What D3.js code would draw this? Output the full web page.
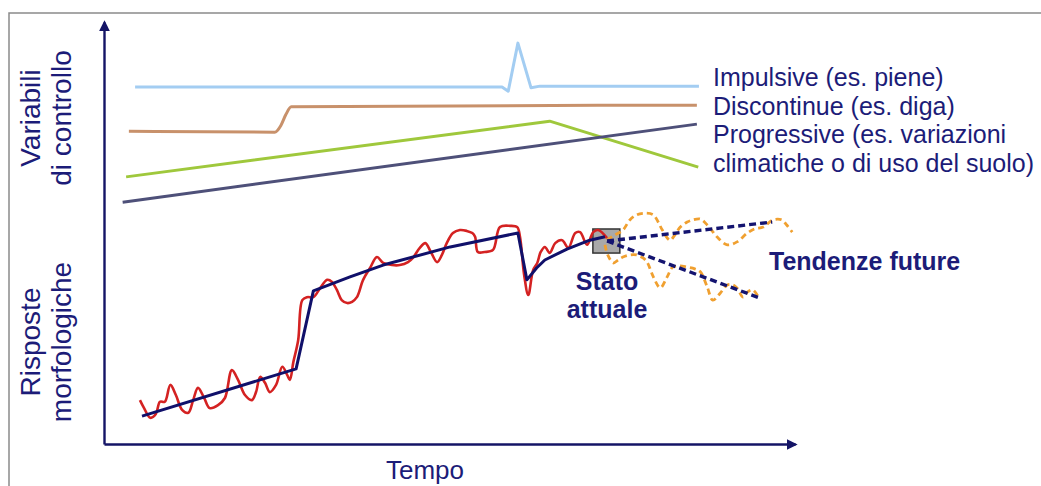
<!DOCTYPE html>
<html>
<head>
<meta charset="utf-8">
<script src="https://d3js.org/d3.v7.min.js"></script>
<style>
  body { margin: 0; background: #fff; }
  text { font-family: "Liberation Sans", Arial, sans-serif; fill: #1c1c78; }
</style>
</head>
<body>
<svg></svg>
<script>
    // time (0-100) / level (0-100) values

    // control variables
    const impulsive = [[4.5, 84.6], [57.6, 84.6], [58.5, 83.6], [59.9, 95.0], [61.8, 84.4], [63.1, 84.8], [86.1, 84.8]];
    const discontinue = [[3.6, 74.1], [24.7, 73.9], [25.6, 75.5], [26.3, 78.0], [27.1, 79.9], [85.8, 80.3]];
    const progressiveA = [[3.2, 63.3], [64.5, 76.5], [86.0, 65.6]];
    const progressiveB = [[2.7, 57.3], [85.8, 75.8]];

    // morphological response
    const response = [
        [5.2, 10.4], [5.8, 8.5], [6.7, 6.2], [7.5, 7.1], [8.1, 10.0], [8.8, 10.0], [9.6, 14.0],
        [10.4, 11.6], [11.3, 8.1], [12.2, 7.4], [12.9, 10.4], [13.6, 13.3], [14.5, 10.9], [15.3, 8.5],
        [16.5, 9.2], [17.5, 10.9], [18.5, 17.5], [19.4, 15.2], [20.4, 11.6], [21.4, 10.4], [22.0, 12.3],
        [22.6, 15.9], [23.3, 14.5], [24.0, 12.3], [24.9, 14.0], [25.8, 18.3], [26.5, 16.4], [26.9, 15.2],
        [27.4, 19.4], [28.1, 24.6], [28.7, 34.1], [29.4, 34.8], [30.3, 34.8], [31.3, 37.0], [32.3, 38.9],
        [33.0, 38.4], [33.7, 36.5], [34.4, 34.1], [35.2, 33.4], [35.9, 33.7], [36.6, 34.8], [37.5, 38.9],
        [38.5, 41.7], [39.5, 44.3], [40.4, 42.9], [41.7, 42.4], [42.8, 42.4], [44.0, 43.1], [44.7, 44.1],
        [45.7, 46.5], [46.5, 47.6], [47.3, 45.5], [48.2, 43.1], [48.9, 44.8], [49.6, 47.6], [50.5, 50.0],
        [51.5, 50.7], [52.5, 50.5], [53.3, 50.0], [53.7, 49.1], [54.1, 45.5], [55.1, 45.5], [56.3, 46.0],
        [57.3, 51.4], [58.8, 51.7], [59.8, 51.4], [60.2, 49.1], [60.8, 40.1], [61.4, 35.3], [62.1, 41.2],
        [62.7, 42.9], [63.2, 45.5], [63.8, 46.7], [64.5, 45.3], [65.3, 47.6], [66.3, 48.3], [67.2, 46.5],
        [68.2, 50.0], [68.9, 50.2], [69.9, 47.2], [70.8, 50.2], [71.5, 50.7], [72.8, 48.8]
    ];
    const trend = [
        [5.5, 6.6], [27.8, 17.8], [30.3, 36.3], [35.6, 39.6], [40.4, 42.4], [50.1, 46.7], [59.9, 50.0],
        [61.2, 38.9], [62.6, 41.7], [63.8, 43.6], [67.0, 46.2], [70.3, 48.3], [72.5, 49.1]
    ];

    // present state and future trends
    const presentState = {t: 72.7, v: 48.1, dt: 3.9, dv: 5.7};
    const futureUp = [[72.8, 48.1], [96.7, 52.6]];
    const futureDown = [[72.8, 48.1], [94.9, 34.6]];
    const scenarioUp = [
        [72.8, 48.3], [73.7, 49.3], [75.1, 50.7], [76.1, 53.1], [77.1, 54.3], [78.3, 54.7], [79.5, 54.3],
        [80.2, 52.6], [80.8, 50.7], [81.9, 48.3], [82.6, 49.5], [83.4, 51.4], [84.4, 52.6], [85.2, 53.1],
        [86.3, 53.3], [87.3, 51.9], [88.0, 50.5], [88.7, 49.1], [90.2, 47.2], [91.6, 47.9], [93.1, 50.0],
        [94.2, 51.0], [95.4, 51.4], [96.8, 53.1], [98.1, 53.1], [98.8, 51.9], [99.6, 50.2]
    ];
    const scenarioDown = [
        [72.5, 47.2], [72.9, 44.8], [73.7, 42.9], [74.4, 43.6], [75.1, 44.3], [76.1, 44.8], [77.1, 44.8],
        [78.0, 44.1], [78.6, 43.1], [79.5, 39.6], [80.5, 37.0], [81.5, 39.6], [82.3, 41.9], [83.4, 42.2],
        [84.4, 41.9], [85.5, 41.5], [86.3, 40.8], [87.3, 37.2], [88.1, 34.1], [89.2, 35.8], [90.2, 37.7],
        [91.0, 37.7], [91.6, 37.0], [92.5, 34.8], [93.1, 36.0], [93.9, 36.5], [94.7, 34.8]
    ];

    const legendLabels = ["Impulsive (es. piene)", "Discontinue (es. diga)", "Progressive (es. variazioni",
        "climatiche o di uso del suolo)"];

    const W = 1041, H = 486;
    const navy = "#141466";

    const svg = d3.select("svg").attr("width", W).attr("height", H);

    const x = d3.scaleLinear().domain([0, 100]).range([104, 795]);
    const y = d3.scaleLinear().domain([0, 100]).range([444, 22]);

    // frame
    svg.append("path")
        .attr("d", `M9,${H}V13H${W}`)
        .attr("fill", "none").attr("stroke", "#8a8a8a").attr("stroke-width", 1.5);

    svg.append("defs").append("marker")
        .attr("id", "arrow")
        .attr("viewBox", "0 0 10 10").attr("refX", 8).attr("refY", 5)
        .attr("markerWidth", 4.5).attr("markerHeight", 4.5)
        .attr("markerUnits", "strokeWidth")
        .attr("orient", "auto")
        .append("path").attr("d", "M0,0L10,5L0,10z").attr("fill", navy);

    const xAxis = svg.append("g")
        .attr("transform", `translate(0, ${y(0)})`)
        .call(d3.axisBottom(x).ticks(0).tickSizeOuter(0));
    const yAxis = svg.append("g")
        .attr("transform", `translate(${x(0)}, 0)`)
        .call(d3.axisLeft(y).ticks(0).tickSizeOuter(0));
    [xAxis, yAxis].forEach(a => a.select(".domain")
        .attr("stroke", navy).attr("stroke-width", 2.4)
        .attr("marker-end", "url(#arrow)"));

    const line = d3.line().x(d => x(d[0])).y(d => y(d[1]));
    const smooth = d3.line().x(d => x(d[0])).y(d => y(d[1])).curve(d3.curveCatmullRom.alpha(0.5));
    const mono = d3.line().x(d => x(d[0])).y(d => y(d[1])).curve(d3.curveMonotoneX);

    function draw(data, gen, color, width, dash) {
        return svg.append("path").datum(data)
            .attr("d", gen)
            .attr("fill", "none")
            .attr("stroke", color)
            .attr("stroke-width", width)
            .attr("stroke-linejoin", "round")
            .attr("stroke-dasharray", dash || null);
    }

    draw(impulsive, line, "#a3cdf2", 3);
    draw(discontinue, mono, "#c8916b", 3);
    draw(progressiveA, line, "#9fc83c", 3);
    draw(progressiveB, line, "#4e5079", 3);

    // present state box
    svg.append("rect")
        .attr("x", x(presentState.t - presentState.dt / 2))
        .attr("y", y(presentState.v + presentState.dv / 2))
        .attr("width", x(presentState.dt) - x(0))
        .attr("height", y(0) - y(presentState.dv))
        .attr("fill", "#a9a9a9")
        .attr("stroke", "#333")
        .attr("stroke-width", 1.5);

    draw(response, smooth, "#d42222", 2.6);
    draw(trend, line, "#10106a", 3);
    draw(scenarioUp, smooth, "#f0a030", 2.8, "6,4");
    draw(scenarioDown, smooth, "#f0a030", 2.8, "6,4");
    draw(futureUp, line, "#141470", 3.4, "7,4");
    draw(futureDown, line, "#141470", 3.4, "7,4");

    // legend texts
    svg.selectAll(".legend")
        .data(legendLabels)
        .join("text")
        .attr("class", "legend")
        .attr("x", 713)
        .attr("y", (d, i) => 86 + i * 28.7)
        .attr("font-size", 25)
        .text(d => d);

    svg.append("text")
        .attr("x", 769).attr("y", 270)
        .attr("font-size", 25).attr("font-weight", "bold")
        .text("Tendenze future");

    svg.selectAll(".stato")
        .data(["Stato", "attuale"])
        .join("text")
        .attr("class", "stato")
        .attr("x", 607)
        .attr("y", (d, i) => 290 + i * 28)
        .attr("text-anchor", "middle")
        .attr("font-size", 25).attr("font-weight", "bold")
        .text(d => d);

    svg.append("text")
        .attr("x", 425).attr("y", 479)
        .attr("text-anchor", "middle")
        .attr("font-size", 26)
        .text("Tempo");

    // rotated axis labels
    const yLabels = [
        {lines: ["Variabili", "di controllo"], cy: 118},
        {lines: ["Risposte", "morfologiche"], cy: 342}
    ];
    yLabels.forEach(l => {
        l.lines.forEach((s, i) => {
            svg.append("text")
                .attr("transform", `translate(${40 + i * 31}, ${l.cy}) rotate(-90)`)
                .attr("text-anchor", "middle")
                .attr("font-size", 28)
                .text(s);
        });
    });
</script>
</body>
</html>
